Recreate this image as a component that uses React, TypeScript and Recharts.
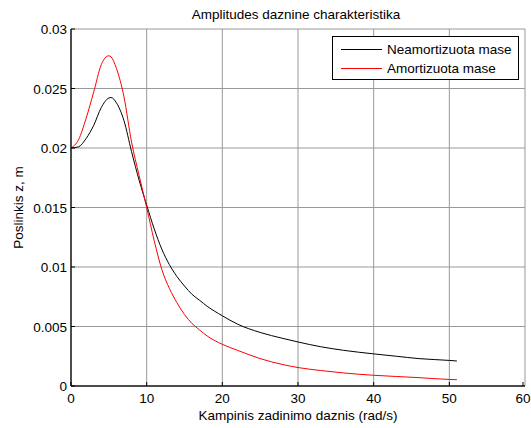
import React from "react"
import { LineChart, Line, XAxis, YAxis, CartesianGrid } from "recharts"

const freq = [0, 1, 2, 3, 4, 5, 5.3, 6, 7, 8, 9, 10, 11, 12, 13, 14, 15, 16, 17, 18, 20, 22, 25, 28, 30, 33, 36, 40, 43, 46, 50, 51]
const neamortizuota = [
  0.02, 0.0201, 0.0208, 0.0219, 0.0234, 0.0242, 0.02424, 0.0238, 0.0223, 0.0197, 0.0173, 0.0152, 0.0132, 0.0115,
  0.0102, 0.0092, 0.0084, 0.0077, 0.0072, 0.0067, 0.0059, 0.0052, 0.0045, 0.004, 0.0037, 0.0033, 0.003, 0.0027,
  0.0025, 0.0023, 0.00215, 0.0021,
]
const amortizuota = [
  0.02, 0.0207, 0.0225, 0.0247, 0.027, 0.02775, 0.02765, 0.0267, 0.0243, 0.0205, 0.0177, 0.015, 0.0122, 0.0098,
  0.0082, 0.007, 0.006, 0.00525, 0.0047, 0.0042, 0.0035, 0.003, 0.0023, 0.0018, 0.00155, 0.0013, 0.0011, 0.0009,
  0.0008, 0.0007, 0.00055, 0.00053,
]
const xTicks = [0, 10, 20, 30, 40, 50, 60]
const yTicks = [0, 0.005, 0.01, 0.015, 0.02, 0.025, 0.03]
const seriesNames = ["Neamortizuota mase", "Amortizuota mase"]

const data = freq.map((x, i) => ({ x, black: neamortizuota[i], red: amortizuota[i] }))

const font = "Arial, 'Liberation Sans', sans-serif"
const fs = 13.5

const BottomTick = (props: any) => {
  const { x, y, payload } = props
  return (
    <g>
      <line x1={x} y1={y} x2={x} y2={y - 4} stroke="#000" />
      <text x={x} y={y + 17} textAnchor="middle" fontSize={fs} fill="#000" fontFamily={font}>
        {payload.value}
      </text>
    </g>
  )
}

const LeftTick = (props: any) => {
  const { x, y, payload } = props
  return (
    <g>
      <line x1={x} y1={y} x2={x + 4} y2={y} stroke="#000" />
      <text x={x - 4} y={y + 5} textAnchor="end" fontSize={fs} fill="#000" fontFamily={font}>
        {payload.value}
      </text>
    </g>
  )
}

const TopTick = (props: any) => {
  const { x, y } = props
  return <line x1={x} y1={y} x2={x} y2={y + 4} stroke="#000" />
}

const RightTick = (props: any) => {
  const { x, y } = props
  return <line x1={x} y1={y} x2={x - 4} y2={y} stroke="#000" />
}

const LegendBox = () => (
  <div
    style={{
      position: "absolute",
      left: 332,
      top: 36,
      width: 187,
      height: 44,
      border: "1.5px solid #000",
      background: "#fff",
      fontFamily: font,
      fontSize: fs,
      boxSizing: "border-box",
      padding: "3px 0 0 8px",
    }}
  >
    {seriesNames.map((name, i) => (
      <div key={name} style={{ display: "flex", alignItems: "center", height: 19 }}>
        <span style={{ width: 41, height: 1, background: i === 0 ? "#000" : "#ff0000", marginRight: 5 }} />
        <span>{name}</span>
      </div>
    ))}
  </div>
)

export default function App() {
  return (
    <div style={{ position: "absolute", left: 0, top: 0, width: 531, height: 428, background: "#fff" }}>
      <LineChart width={531} height={428} data={data} margin={{ top: 29, right: 6, bottom: 0, left: 0 }}>
        <CartesianGrid stroke="#999" strokeWidth={1} />
        <XAxis
          dataKey="x"
          type="number"
          domain={[0, 60]}
          ticks={xTicks}
          tickSize={0}
          tickMargin={0}
          tickLine={false}
          axisLine={{ stroke: "#222", strokeWidth: 1.5 }}
          tick={<BottomTick />}
          height={42}
          label={{ value: "Kampinis zadinimo daznis (rad/s)", position: "insideBottom", offset: 8, fontSize: fs, fill: "#000", fontFamily: font }}
        />
        <XAxis
          xAxisId="top"
          orientation="top"
          dataKey="x"
          type="number"
          domain={[0, 60]}
          ticks={xTicks}
          tickSize={0}
          tickMargin={0}
          tickLine={false}
          axisLine={false}
          tick={<TopTick />}
          height={0}
        />
        <YAxis
          type="number"
          domain={[0, 0.03]}
          ticks={yTicks}
          tickSize={0}
          tickMargin={0}
          tickLine={false}
          axisLine={{ stroke: "#222", strokeWidth: 1.5 }}
          tick={<LeftTick />}
          width={71}
          label={{ value: "Poslinkis z, m", angle: -90, position: "insideLeft", offset: 18, fontSize: fs, fill: "#000", fontFamily: font, style: { textAnchor: "middle" } }}
        />
        <YAxis
          yAxisId="right"
          orientation="right"
          type="number"
          domain={[0, 0.03]}
          ticks={yTicks}
          tickSize={0}
          tickMargin={0}
          tickLine={false}
          axisLine={false}
          tick={<RightTick />}
          width={0}
        />
        <Line type="monotone" dataKey="black" name={seriesNames[0]} stroke="#000" strokeWidth={1} dot={false} isAnimationActive={false} />
        <Line type="monotone" dataKey="red" name={seriesNames[1]} stroke="#ff0000" strokeWidth={1} dot={false} isAnimationActive={false} />
        <text x={296} y={19} textAnchor="middle" fontSize={fs} fill="#000" fontFamily={font}>
          Amplitudes daznine charakteristika
        </text>
      </LineChart>
      <LegendBox />
    </div>
  )
}
